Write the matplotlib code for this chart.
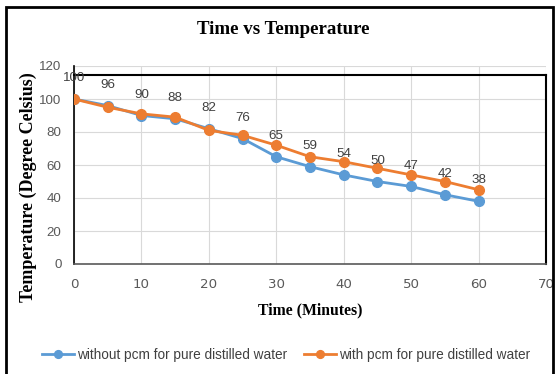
import matplotlib
matplotlib.use("Agg")
import matplotlib.pyplot as plt
from matplotlib.patches import Rectangle

time_min = [0, 5, 10, 15, 20, 25, 30, 35, 40, 45, 50, 55, 60]
without_pcm = [100, 96, 90, 88, 82, 76, 65, 59, 54, 50, 47, 42, 38]
with_pcm = [100, 95, 91, 89, 81, 78, 72, 65, 62, 58, 54, 50, 45]
series_names = ["without pcm for pure distilled water", "with pcm for pure distilled water"]
x_ticks = [0, 10, 20, 30, 40, 50, 60, 70]
y_ticks = [0, 20, 40, 60, 80, 100, 120]

W, H = 558, 374
fig = plt.figure(figsize=(W / 100, H / 100), dpi=100)
ax = fig.add_axes([74 / W, 1 - 264 / H, (546 - 74) / W, (264 - 66) / H])

blue = "#5B9BD5"
orange = "#ED7D31"
ax.plot(time_min, without_pcm, color=blue, lw=2, marker="o", ms=7, label=series_names[0], zorder=3)
ax.plot(time_min, with_pcm, color=orange, lw=2, marker="o", ms=7, label=series_names[1], zorder=4)

for x, y in zip(time_min, without_pcm):
    ax.annotate(str(y), (x, y), xytext=(0, 15), textcoords="offset points",
                ha="center", va="center", fontsize=9.6, color="#404040",
                family="Liberation Sans", zorder=5)

ax.set_xlim(0, 70)
ax.set_ylim(0, 120)
ax.set_xticks(x_ticks)
ax.set_yticks(y_ticks)
ax.grid(True, color="#d9d9d9", lw=0.8)
ax.set_axisbelow(True)
ax.tick_params(length=0, labelsize=9.6, labelcolor="#595959")
ax.tick_params(axis="x", pad=10)
ax.tick_params(axis="y", pad=9)
for lbl in ax.get_xticklabels() + ax.get_yticklabels():
    lbl.set_family("Liberation Sans")

for s in ["left", "right", "top"]:
    ax.spines[s].set_color("black")
    ax.spines[s].set_linewidth(1.5)
ax.spines["top"].set_position(("data", 114.5))
ax.spines["bottom"].set_color("#595959")
ax.spines["bottom"].set_linewidth(1.2)
ax.spines["right"].set_bounds(0, 114.5)
ax.spines["left"].set_bounds(0, 120)
ax.spines["left"].set_linewidth(1.2)

fig.text(283 / W, 1 - 30 / H, "Time vs Temperature", ha="center", va="center",
         fontsize=13.6, fontweight="bold", family="Liberation Serif")
fig.text(28 / W, 1 - 187 / H, "Temperature (Degree Celsius)", ha="center", va="center",
         rotation=90, fontsize=13, fontweight="bold", family="Liberation Serif")
fig.text(310 / W, 1 - 310 / H, "Time (Minutes)", ha="center", va="center",
         fontsize=11.3, fontweight="bold", family="Liberation Serif")

fig.legend(loc="center", bbox_to_anchor=(286 / W, 1 - 355 / H), ncol=2, frameon=False,
           prop={"family": "Liberation Sans", "size": 9.8}, handlelength=2.4,
           handletextpad=0.2, columnspacing=1.2, labelcolor="#404040", markerscale=0.8)

fig.patches.append(Rectangle((6 / W, -0.05), (553 - 6) / W, 1.05 - 7 / H,
                             transform=fig.transFigure, fill=False, ec="black", lw=2))

fig.savefig("out.png", dpi=100)
